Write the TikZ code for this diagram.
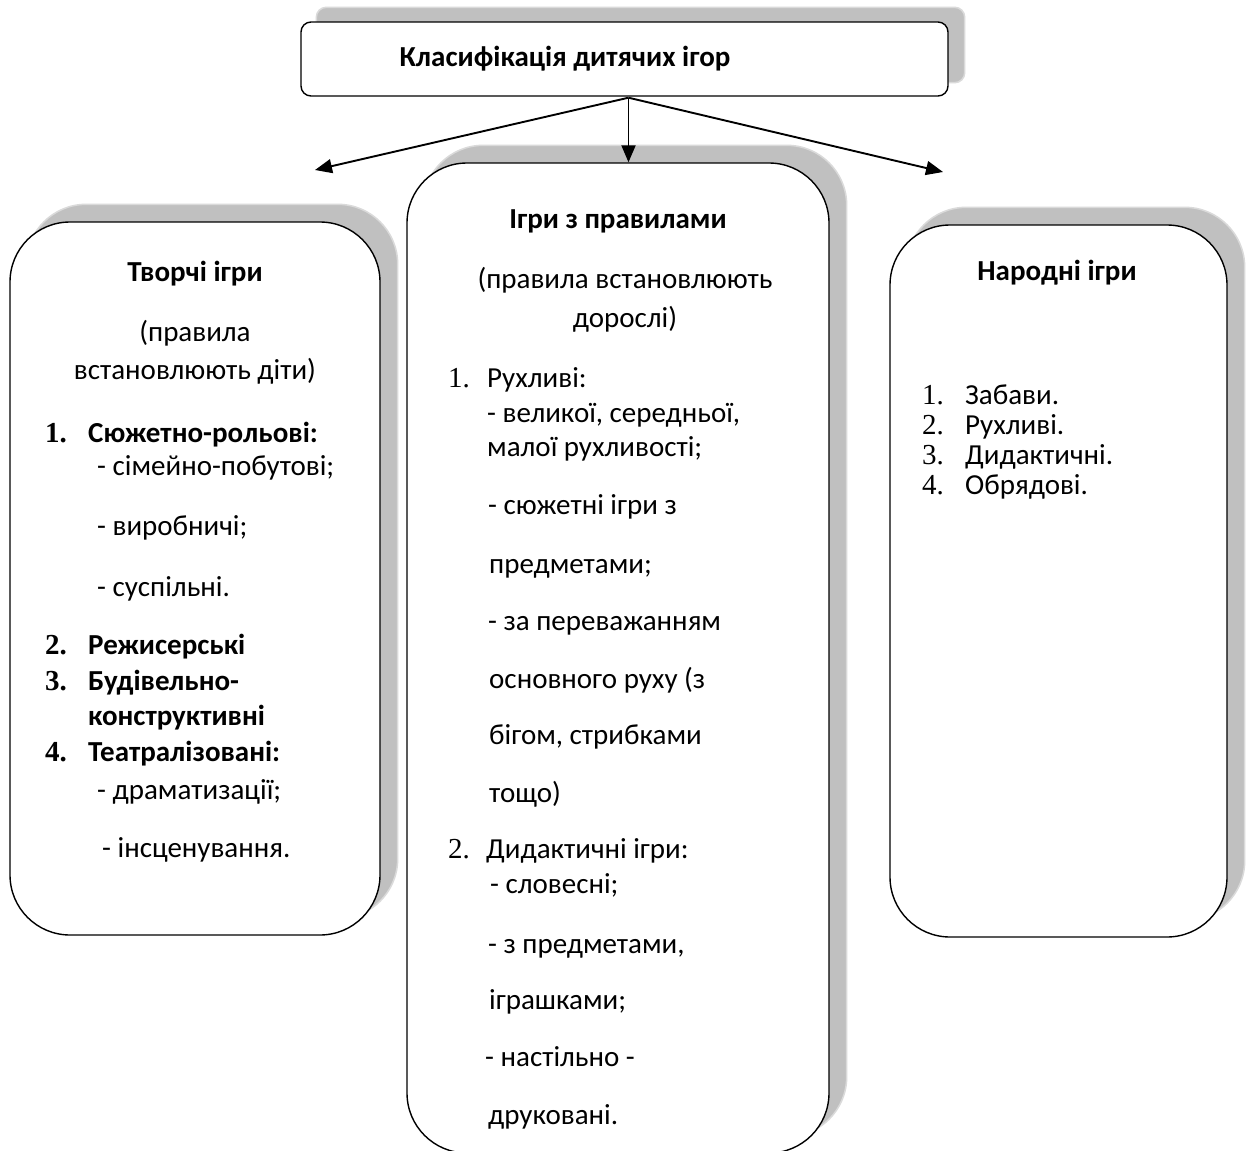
\documentclass[tikz,border=0pt]{standalone}
\usepackage{fontspec}
\setmainfont{Carlito}
\newfontfamily\numfont{Liberation Serif}
\usetikzlibrary{arrows.meta,calc,backgrounds}
\definecolor{shadecol}{HTML}{C0C0C0}
\definecolor{shadeedge}{HTML}{DADADA}
\newcommand\fsz{\fontsize{29}{35}\selectfont}
\begin{document}
\begin{tikzpicture}[x=1pt,y=-1pt,
  boxshape/.style={draw=black, line width=1.4pt, fill=white, rounded corners=60pt, inner sep=0pt},
  shadowfill/.style={fill=shadecol, draw=shadeedge, line width=1.5pt, rounded corners=60pt},
  t/.style={inner sep=0pt, anchor=mid west, font=\fsz},
  tc/.style={inner sep=0pt, anchor=mid, font=\fsz},
  nb/.style={inner sep=0pt, anchor=mid west, font=\fsz\numfont\bfseries},
  nr/.style={inner sep=0pt, anchor=mid west, font=\fsz\numfont},
  arr/.style={line width=1.9pt, -{Triangle[length=17pt,width=14pt]}}]
\useasboundingbox (0,0) rectangle (1248,1151);

% boxes
\node[boxshape, rounded corners=10pt, minimum width=647pt, minimum height=74pt] (T) at (624.5,59) {};
\node[boxshape, minimum width=370pt, minimum height=713pt] (L) at (195,578.5) {};
\node[boxshape, minimum width=422pt, minimum height=990pt] (M) at (618,658) {};
\node[boxshape, minimum width=337pt, minimum height=712pt] (R) at (1058.5,581) {};

% background and shadows
\begin{scope}[on background layer]
  \fill[white] (0,0) rectangle (1248,1151);
  \path[shadowfill, rounded corners=10pt] ($(T.south west)+(16,-14)$) rectangle ($(T.north east)+(16,-14)$);
  \path[shadowfill] ($(L.south west)+(17,-17)$) rectangle ($(L.north east)+(17,-17)$);
  \path[shadowfill] ($(M.south west)+(17,-17)$) rectangle ($(M.north east)+(17,-17)$);
  \path[shadowfill] ($(R.south west)+(17,-17)$) rectangle ($(R.north east)+(17,-17)$);
\end{scope}

% title
\node[tc, font=\fsz\bfseries] (Tt) at (565,64) {Класифікація дитячих ігор};

% arrows
\coordinate (src) at ($(T.south)+(4,1)$);
\coordinate (lt) at (315,170);
\coordinate (rt) at (943,172);
\draw[arr] (src) -- (lt);
\draw[arr] (src) -- (src |- M.north);
\draw[arr] (src) -- (rt);

% left box
\node[tc, font=\fsz\bfseries] (L1) at (195,279) {Творчі ігри};
\node[tc] (L2) at (195,339) {(правила};
\node[tc] (L3) at (195,377) {встановлюють діти)};
\node[nb] (L4n) at (45,440) {1.};
\node[t, font=\fsz\bfseries] (L4) at (88,440) {Сюжетно-рольові:};
\node[t] (L5) at (97,473) {- сімейно-побутові;};
\node[t] (L6) at (97,533) {- виробничі;};
\node[t] (L7) at (97,594) {- суспільні.};
\node[nb] (L8n) at (45,652) {2.};
\node[t, font=\fsz\bfseries] (L8) at (88,652) {Режисерські};
\node[nb] (L9n) at (45,688) {3.};
\node[t, font=\fsz\bfseries] (L9) at (88,688) {Будівельно-};
\node[t, font=\fsz\bfseries] (L10) at (88,723) {конструктивні};
\node[nb] (L11n) at (45,759) {4.};
\node[t, font=\fsz\bfseries] (L11) at (88,759) {Театралізовані:};
\node[t] (L12) at (97,797) {- драматизації;};
\node[t] (L13) at (102,855) {- інсценування.};

% middle box
\node[tc, font=\fsz\bfseries] (M1) at (618,226) {Ігри з правилами};
\node[tc] (M2) at (625,286) {(правила встановлюють};
\node[tc] (M3) at (625,325) {дорослі)};
\node[nr] (M4n) at (448,385) {1.};
\node[t] (M4) at (487,385) {Рухливі:};
\node[t] (M5) at (487,420) {- великої, середньої,};
\node[t] (M6) at (487,454) {малої рухливості;};
\node[t] (M7) at (488,512) {- сюжетні ігри з};
\node[t] (M8) at (489,571) {предметами;};
\node[t] (M9) at (488,628) {- за переважанням};
\node[t] (M10) at (489,686) {основного руху (з};
\node[t] (M11) at (489,742) {бігом, стрибками};
\node[t] (M12) at (489,800) {тощо)};
\node[nr] (M13n) at (448,856) {2.};
\node[t] (M13) at (486,856) {Дидактичні ігри:};
\node[t] (M14) at (490,891) {- словесні;};
\node[t] (M15) at (488,951) {- з предметами,};
\node[t] (M16) at (489,1007) {іграшками;};
\node[t] (M17) at (485,1064) {- настільно -};
\node[t] (M18) at (488,1122) {друковані.};

% right box
\node[tc, font=\fsz\bfseries] (R1) at (1057,278) {Народні ігри};
\node[nr] (R2n) at (922,402) {1.};
\node[t] (R2) at (965,402) {Забави.};
\node[nr] (R3n) at (922,432) {2.};
\node[t] (R3) at (965,432) {Рухливі.};
\node[nr] (R4n) at (922,462) {3.};
\node[t] (R4) at (965,462) {Дидактичні.};
\node[nr] (R5n) at (922,492) {4.};
\node[t] (R5) at (965,492) {Обрядові.};
\end{tikzpicture}
\end{document}
